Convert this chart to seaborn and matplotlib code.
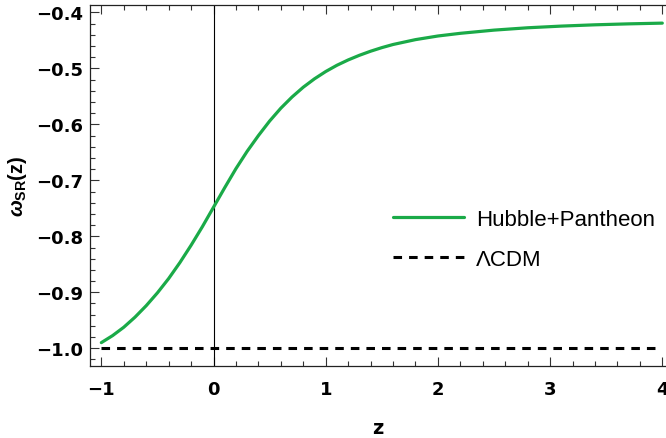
import numpy as np
import pandas as pd
import seaborn as sns
import matplotlib.pyplot as plt
from matplotlib.ticker import MultipleLocator

# values
z_vals = [-1.0, -0.9, -0.8, -0.7, -0.6, -0.5, -0.4, -0.3, -0.2, -0.1,
          0.0, 0.1, 0.2, 0.3, 0.4, 0.5, 0.6, 0.7, 0.8, 0.9,
          1.0, 1.1, 1.2, 1.3, 1.4, 1.5, 1.6, 1.8, 2.0, 2.2,
          2.5, 2.8, 3.1, 3.4, 3.7, 4.0]
w_vals = [-0.990, -0.9775, -0.9625, -0.9445, -0.924, -0.901, -0.8755, -0.847, -0.816, -0.783,
          -0.748, -0.713, -0.679, -0.648, -0.620, -0.594, -0.571, -0.551, -0.5335, -0.5185,
          -0.5055, -0.4943, -0.4848, -0.4765, -0.4692, -0.4628, -0.4572, -0.4485, -0.4420, -0.4372,
          -0.4315, -0.4273, -0.4243, -0.4220, -0.4203, -0.4190]
lcdm_z = [-1.0, 4.0]
lcdm_w = [-1.0, -1.0]

x_ticks = [-1, 0, 1, 2, 3, 4]
x_labels = ["\u22121", "0", "1", "2", "3", "4"]
y_ticks = [-1.0, -0.9, -0.8, -0.7, -0.6, -0.5, -0.4]
y_labels = ["\u22121.0", "\u22120.9", "\u22120.8", "\u22120.7", "\u22120.6", "\u22120.5", "\u22120.4"]

df = pd.DataFrame({"z": z_vals, "w": w_vals})
df_l = pd.DataFrame({"z": lcdm_z, "w": lcdm_w})

sns.set_theme(style="ticks")
plt.rcParams['font.family'] = ['Liberation Sans', 'DejaVu Sans']
plt.rcParams['text.color'] = 'black'
plt.rcParams['axes.labelcolor'] = 'black'
plt.rcParams['xtick.labelcolor'] = 'black'
plt.rcParams['ytick.labelcolor'] = 'black'
plt.rcParams['mathtext.fontset'] = 'custom'
plt.rcParams['mathtext.rm'] = 'Liberation Sans:bold'
plt.rcParams['mathtext.it'] = 'Liberation Sans:italic:bold'
plt.rcParams['mathtext.bf'] = 'Liberation Sans:bold'

fig = plt.figure(figsize=(6.66, 4.39), dpi=100)
ax = fig.add_axes([90/666, 1 - 367.3/439, 1 - 90/666, (367.3 - 6)/439])

ax.axvline(0, color='black', lw=0.8, zorder=1)
sns.lineplot(data=df, x="z", y="w", ax=ax, color='#1aaa48', lw=2.3,
             label="Hubble+Pantheon", sort=False)
sns.lineplot(data=df_l, x="z", y="w", ax=ax, color='black', lw=2.2,
             label="\u039bCDM")
ax.lines[-1].set_dashes((2.8, 2.3))

ax.set_xlim(-1.101, 4.033)
ax.set_ylim(-1.0323, -0.3866)
ax.set_xticks(x_ticks)
ax.set_yticks(y_ticks)
ax.xaxis.set_minor_locator(MultipleLocator(0.2))
ax.yaxis.set_minor_locator(MultipleLocator(0.02))
ax.set_xticklabels(x_labels)
ax.set_yticklabels(y_labels)

ax.spines['right'].set_visible(False)
for s in ['left', 'bottom', 'top']:
    ax.spines[s].set_linewidth(0.9)
    ax.spines[s].set_color('#222222')
ax.tick_params(which='both', direction='in', top=True, right=False, color='#333333', width=0.8)
ax.tick_params(which='major', length=6.5)
ax.tick_params(which='minor', length=3.5)
ax.tick_params(axis='x', which='major', pad=10)
ax.tick_params(axis='y', which='major', pad=5)
for t in ax.get_xticklabels() + ax.get_yticklabels():
    t.set_fontfamily('DejaVu Sans')
    t.set_fontweight('bold')
    t.set_fontsize(13)
    t.set_color('black')

ax.set_xlabel("z", fontsize=14, fontweight='bold', labelpad=14, family='DejaVu Sans')
ax.set_ylabel(r"$\omega_{\mathrm{SR}}\mathrm{(z)}$", fontsize=14.5, labelpad=5)

leg = ax.legend(loc='upper left', bbox_to_anchor=(393/666, 1 - 210/439),
                bbox_transform=fig.transFigure, frameon=False, fontsize=16,
                handlelength=3.2, handletextpad=0.55, labelspacing=0.85,
                borderpad=0, borderaxespad=0)
for t in leg.get_texts():
    t.set_color('black')

fig.savefig("out.png", dpi=100)
